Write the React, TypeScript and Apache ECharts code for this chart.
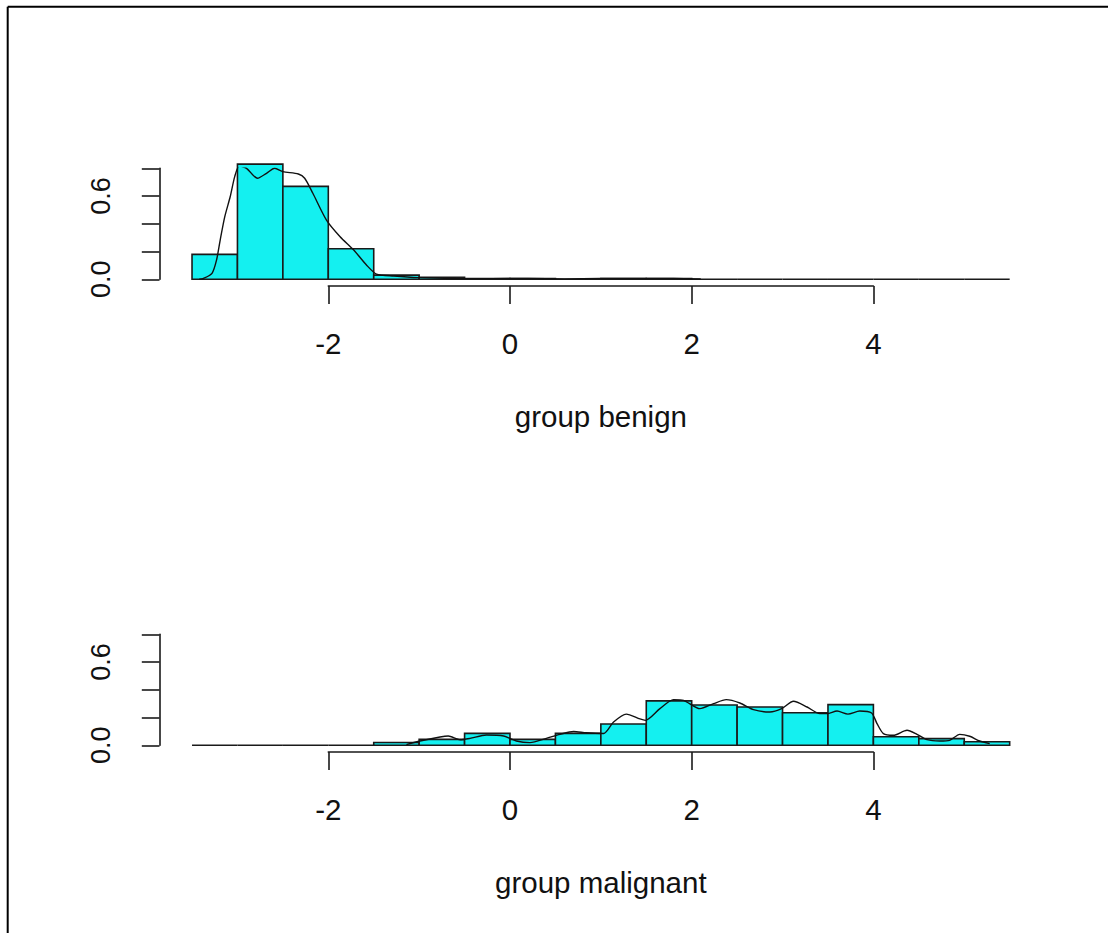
import React, { useEffect, useRef } from "react";
import * as echarts from "echarts";

// Histogram bins: start, width
const binStart = -3.5;
const binWidth = 0.5;

// Density-scaled histogram heights, bins [-3.5,-3) ... [5,5.5)
const benignHist = [0.18, 0.83, 0.67, 0.22, 0.03, 0.015, 0.006, 0.006, 0, 0.006, 0.006, 0, 0, 0, 0, 0, 0, 0];
const malignantHist = [0, 0, 0, 0, 0.02, 0.043, 0.086, 0.043, 0.086, 0.153, 0.32, 0.29, 0.276, 0.235, 0.293, 0.062, 0.048, 0.026];

// Kernel density curves
const benignDensX = [-3.42, -3.38, -3.28, -3.23, -3.19, -3.14, -3.08, -3.03, -2.98, -2.9, -2.78, -2.68, -2.59, -2.5, -2.33, -2.26, -2.17, -2.02, -1.87, -1.72, -1.58, -1.47, -1.28, -1.0, -0.6, -0.2, 0.2, 0.6, 1.0, 1.4, 1.8, 2.1];
const benignDensY = [0, 0.005, 0.043, 0.139, 0.283, 0.45, 0.595, 0.74, 0.817, 0.8, 0.728, 0.764, 0.8, 0.776, 0.759, 0.728, 0.62, 0.427, 0.307, 0.211, 0.103, 0.038, 0.024, 0.012, 0.006, 0.005, 0.006, 0.003, 0.006, 0.006, 0.006, 0.002];

const malignantDensX = [-1.14, -0.99, -0.77, -0.68, -0.55, -0.44, -0.26, -0.07, 0.07, 0.22, 0.4, 0.55, 0.7, 0.84, 1.03, 1.14, 1.28, 1.43, 1.49, 1.65, 1.8, 1.91, 2.09, 2.24, 2.38, 2.53, 2.68, 2.86, 2.99, 3.12, 3.27, 3.41, 3.49, 3.6, 3.72, 3.85, 3.98, 4.04, 4.11, 4.22, 4.37, 4.48, 4.59, 4.73, 4.84, 4.95, 5.06, 5.17, 5.28];
const malignantDensY = [0.005, 0.031, 0.06, 0.067, 0.04, 0.05, 0.074, 0.067, 0.031, 0.019, 0.05, 0.079, 0.1, 0.09, 0.085, 0.168, 0.225, 0.19, 0.18, 0.264, 0.329, 0.324, 0.264, 0.3, 0.329, 0.305, 0.257, 0.24, 0.264, 0.317, 0.276, 0.228, 0.228, 0.247, 0.225, 0.247, 0.233, 0.156, 0.084, 0.072, 0.108, 0.079, 0.041, 0.031, 0.036, 0.079, 0.065, 0.031, 0.012];

const xTickMin = -2;
const xTickMax = 4;
const xTickStep = 2;
const yTickMax = 0.8;
const yTickStep = 0.2;
const yLabelValues = [0, 0.6];
const panelTitles = ["group benign", "group malignant"];

const FONT = "Liberation Sans, Arial, sans-serif";
const CYAN = "#14F0F0";
const EDGE = "#1a1a1a";

export default function App() {
  const ref = useRef<HTMLDivElement>(null);

  useEffect(() => {
    if (!ref.current) return;
    const chart = echarts.init(ref.current, null, { renderer: "svg" });

    const pxPerUnit = 90.85;
    const x0px = 510; // pixel of x = 0
    const dataXMin = binStart;
    const dataXMax = binStart + binWidth * benignHist.length;
    const dataLeft = x0px + dataXMin * pxPerUnit;
    const dataWidth = (dataXMax - dataXMin) * pxPerUnit;
    const tickLeft = x0px + xTickMin * pxPerUnit;
    const tickWidth = (xTickMax - xTickMin) * pxPerUnit;
    const yAxisX = 159.5;

    const panels = [
      { hist: benignHist, dx: benignDensX, dy: benignDensY, baseY: 279.3, title: panelTitles[0] },
      { hist: malignantHist, dx: malignantDensX, dy: malignantDensY, baseY: 745.3, title: panelTitles[1] },
    ];
    const plotH = 111;

    const grid: any[] = [];
    const xAxis: any[] = [];
    const yAxis: any[] = [];
    const series: any[] = [];

    const lineStyle = { color: EDGE, width: 1.6 };

    panels.forEach((p, i) => {
      const gi = i * 3;
      // data grid
      grid.push({ left: dataLeft, width: dataWidth, top: p.baseY - plotH, height: plotH });
      xAxis.push({ gridIndex: gi, type: "value", min: dataXMin, max: dataXMax, show: false });
      yAxis.push({ gridIndex: gi, type: "value", min: 0, max: yTickMax, show: false });
      // x display axis grid
      const axisY = p.baseY + 6.7;
      grid.push({ left: tickLeft, width: tickWidth, top: axisY - 10, height: 10 });
      xAxis.push({
        gridIndex: gi + 1,
        type: "value",
        min: xTickMin,
        max: xTickMax,
        interval: xTickStep,
        axisLine: { show: true, lineStyle },
        axisTick: { show: true, length: 18, lineStyle },
        splitLine: { show: false },
        axisLabel: { color: "#111", fontSize: 29.5, fontFamily: FONT, margin: 42 },
        name: p.title,
        nameLocation: "middle",
        nameGap: 115,
        nameTextStyle: { color: "#111", fontSize: 29.5, fontFamily: FONT },
      });
      yAxis.push({ gridIndex: gi + 1, type: "value", show: false, min: 0, max: 1 });
      // y display axis grid
      grid.push({ left: yAxisX, width: 10, top: p.baseY - plotH, height: plotH });
      xAxis.push({ gridIndex: gi + 2, type: "value", show: false, min: 0, max: 1 });
      yAxis.push({
        gridIndex: gi + 2,
        type: "value",
        min: 0,
        max: yTickMax,
        interval: yTickStep,
        axisLine: { show: true, lineStyle },
        axisTick: { show: true, length: 17.7, lineStyle },
        splitLine: { show: false },
        axisLabel: {
          rotate: 90,
          color: "#111",
          fontSize: 27,
          fontFamily: FONT,
          margin: 45,
          formatter: (v: number) =>
            yLabelValues.some((t) => Math.abs(t - v) < 1e-9) ? v.toFixed(1) : "",
        },
      });

      const histData = p.hist.map((h, k) => [binStart + k * binWidth, binStart + (k + 1) * binWidth, h]);
      series.push({
        type: "custom",
        xAxisIndex: gi,
        yAxisIndex: gi,
        data: histData,
        encode: { x: [0, 1], y: 2 },
        renderItem: (params: any, api: any) => {
          const a = api.value(0);
          const b = api.value(1);
          const h = api.value(2);
          const p0 = api.coord([a, h]);
          const p1 = api.coord([b, 0]);
          if (h <= 0) {
            return {
              type: "line",
              shape: { x1: p0[0], y1: p1[1], x2: p1[0], y2: p1[1] },
              style: { stroke: EDGE, lineWidth: 1.6 },
            };
          }
          return {
            type: "rect",
            shape: { x: p0[0], y: p0[1], width: p1[0] - p0[0], height: p1[1] - p0[1] },
            style: { fill: CYAN, stroke: EDGE, lineWidth: 1.6 },
          };
        },
        z: 2,
      });
      series.push({
        type: "line",
        xAxisIndex: gi,
        yAxisIndex: gi,
        data: p.dx.map((x, k) => [x, p.dy[k]]),
        smooth: 0.25,
        showSymbol: false,
        symbol: "none",
        lineStyle: { color: "#111", width: 1.4 },
        z: 3,
      });
    });

    chart.setOption({
      animation: false,
      backgroundColor: "#ffffff",
      grid,
      xAxis,
      yAxis,
      series,
      graphic: [
        { type: "line", shape: { x1: 7.7, y1: 6.7, x2: 1108, y2: 6.7 }, style: { stroke: "#000", lineWidth: 2 } },
        { type: "line", shape: { x1: 7.7, y1: 6.7, x2: 7.7, y2: 933 }, style: { stroke: "#000", lineWidth: 2 } },
      ],
    });

    return () => chart.dispose();
  }, []);

  return (
    <div
      ref={ref}
      style={{ position: "fixed", left: 0, top: 0, width: 1108, height: 933, background: "#fff" }}
    />
  );
}
